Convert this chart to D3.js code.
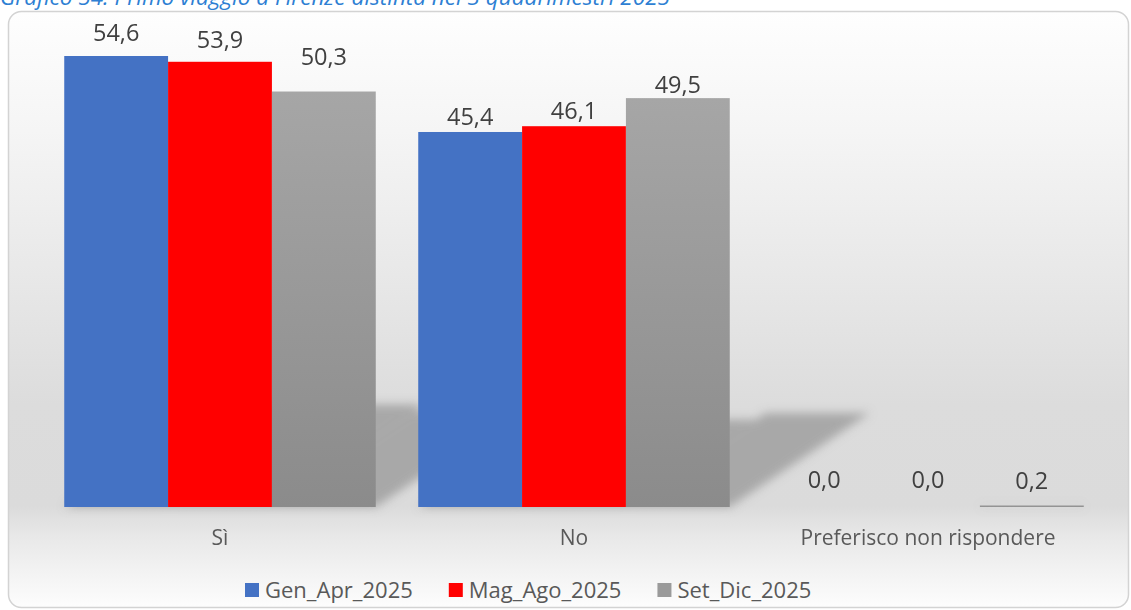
<!DOCTYPE html>
<html>
<head>
<meta charset="utf-8">
<script src="https://cdn.jsdelivr.net/npm/d3@7"></script>
<style>
  html, body { margin: 0; padding: 0; background: #ffffff; }
  svg { display: block; font-family: "Open Sans", "DejaVu Sans", sans-serif; }
</style>
</head>
<body>
<svg id="chart" width="1131" height="610"></svg>
<script>
// Risposte alla domanda "Primo viaggio a Firenze?" per quadrimestre (%)
const categories = ["Sì", "No", "Preferisco non rispondere"];
const seriesNames = ["Gen_Apr_2025", "Mag_Ago_2025", "Set_Dic_2025"];
const genApr = [54.6, 45.4, 0.0];
const magAgo = [53.9, 46.1, 0.0];
const setDic = [50.3, 49.5, 0.2];
const seriesValues = [genApr, magAgo, setDic];
const titleText = "Grafico 54: Primo viaggio a Firenze distinta nei 3 quadrimestri 2025";

const svg = d3.select("#chart");
const defs = svg.append("defs");

// chart area background: soft vertical gradient
const bg = defs.append("linearGradient").attr("id", "bgGrad")
  .attr("x1", 0).attr("y1", 0).attr("x2", 0).attr("y2", 1);
[[0, "#fefefe"], [0.2, "#f5f5f5"], [0.48, "#e6e6e6"], [0.66, "#dcdcdc"],
 [0.83, "#dbdbdb"], [0.88, "#e8e8e8"], [1, "#fdfdfd"]]
  .forEach(([o, c]) => bg.append("stop").attr("offset", o).attr("stop-color", c));

const grayGrad = defs.append("linearGradient").attr("id", "grayGrad")
  .attr("x1", 0).attr("y1", 0).attr("x2", 0).attr("y2", 1);
grayGrad.append("stop").attr("offset", 0).attr("stop-color", "#a6a6a6");
grayGrad.append("stop").attr("offset", 1).attr("stop-color", "#8b8b8b");

const blur = defs.append("filter").attr("id", "shadowBlur")
  .attr("x", "-20%").attr("y", "-20%").attr("width", "140%").attr("height", "140%");
blur.append("feGaussianBlur").attr("stdDeviation", 5);

const colors = ["#4472c4", "#ff0000", "url(#grayGrad)"];
const legendColors = ["#4472c4", "#ff0000", "#9a9a9a"];

// title (runs past the top edge of the page)
const title = svg.append("text")
  .attr("x", 0).attr("y", 5)
  .attr("fill", "#2e7fd3")
  .attr("font-style", "italic")
  .attr("font-size", 17)
  .text(titleText);
const tw = title.node().getComputedTextLength();
title.attr("font-size", 17 * 670 / tw);

// outer frame
svg.append("rect")
  .attr("x", 8.5).attr("y", 11.5).attr("width", 1120).attr("height", 596)
  .attr("rx", 13).attr("ry", 13)
  .attr("fill", "url(#bgGrad)")
  .attr("stroke", "#d3d3d3").attr("stroke-width", 1.5);

// scales
const baseY = 507;
const x0 = d3.scaleBand().domain(categories).range([43, 1105])
  .paddingInner(0.12).paddingOuter(0.06);
const x1 = d3.scaleBand().domain(d3.range(seriesNames.length)).range([0, x0.bandwidth()]);
const y = d3.scaleLinear().domain([0, 54.6]).range([baseY, 56]);

const bars = [];
categories.forEach((c, ci) => {
  seriesValues.forEach((vals, si) => {
    bars.push({ c, ci, si, v: vals[ci] });
  });
});

// perspective shadows behind the bars
const shear = 0.342, squash = 0.23;
svg.append("g").attr("filter", "url(#shadowBlur)")
  .selectAll("path").data(bars.filter(d => d.v > 0)).join("path")
  .attr("d", d => {
    const xa = x0(d.c) + x1(d.si), xb = xa + x1.bandwidth();
    const h = baseY - y(d.v);
    const top = baseY - h * squash, dx = h * shear;
    return `M${xa},${baseY}L${xb},${baseY}L${xb + dx},${top}L${xa + dx},${top}Z`;
  })
  .attr("fill", "#9a9a9a")
  .attr("opacity", 0.78);

// bars
svg.append("g").selectAll("rect").data(bars).join("rect")
  .attr("x", d => x0(d.c) + x1(d.si))
  .attr("width", x1.bandwidth())
  .attr("y", d => y(d.v))
  .attr("height", d => baseY - y(d.v))
  .attr("fill", d => colors[d.si]);

// value labels: vertical gap (px) between label centre and bar top
const labelGap = [[23, 22, 35], [15, 16, 14], [27, 27, 25]];
const fmt = v => d3.format(".1f")(v).replace(".", ",");
svg.append("g").selectAll("text").data(bars).join("text")
  .attr("x", d => x0(d.c) + x1(d.si) + x1.bandwidth() / 2)
  .attr("y", d => y(d.v) - labelGap[d.ci][d.si])
  .attr("dy", "0.36em")
  .attr("text-anchor", "middle")
  .attr("font-size", 23.5)
  .attr("fill", "#404040")
  .text(d => fmt(d.v));

// category axis labels
const xAxis = d3.axisBottom(x0).tickSize(0).tickPadding(0);
const axisG = svg.append("g").attr("transform", `translate(0,${baseY})`).call(xAxis);
axisG.select(".domain").remove();
axisG.selectAll("text")
  .attr("y", 30).attr("dy", "0.36em")
  .attr("font-size", 21)
  .attr("font-family", "Open Sans, DejaVu Sans, sans-serif")
  .attr("fill", "#595959");

// legend
const legend = svg.append("g").attr("transform", "translate(245,590)");
let lx = 0;
seriesNames.forEach((name, i) => {
  const g = legend.append("g").attr("transform", `translate(${lx},0)`);
  g.append("rect").attr("x", 0).attr("y", -7).attr("width", 14).attr("height", 14)
    .attr("fill", legendColors[i]);
  const t = g.append("text").attr("x", 20).attr("y", 0).attr("dy", "0.36em")
    .attr("font-size", 22).attr("fill", "#595959").text(name);
  lx += 20 + t.node().getComputedTextLength() + 36;
});
</script>
</body>
</html>
